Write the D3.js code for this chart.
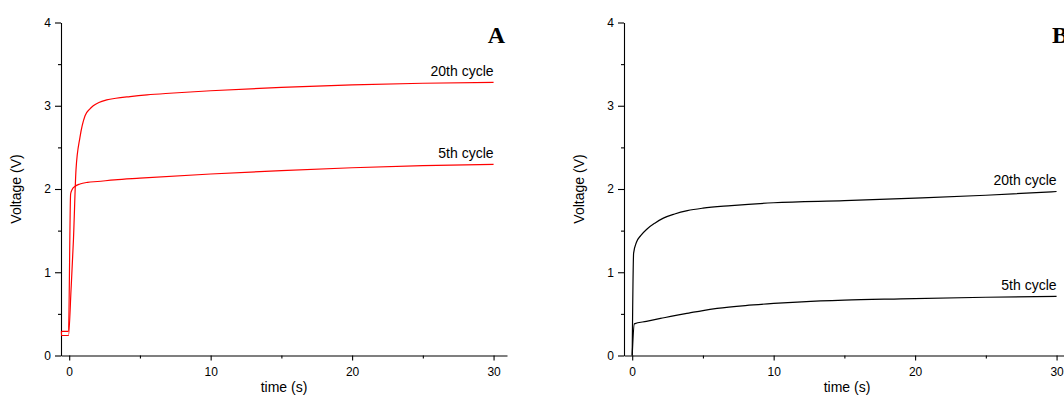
<!DOCTYPE html>
<html><head><meta charset="utf-8">
<script src="https://cdn.jsdelivr.net/npm/d3@7"></script>
<style>body{margin:0;background:#fff}svg{display:block}</style>
</head><body><svg id="c" width="1064" height="403"></svg>
<script>
// ---- data ----
const panels = ["A", "B"];
const xTicks = [0, 10, 20, 30];
const xMinorTicks = [5, 15, 25];
const yTicks = [0, 1, 2, 3, 4];
const yMinorTicks = [0.5, 1.5, 2.5, 3.5];
const seriesNames = ["20th cycle", "5th cycle"];

// Panel A (red)
const timeA20 = [-0.55, -0.549, -0.05, 0.13, 0.3, 0.48, 0.76, 1.12, 1.45, 1.7, 2.1, 2.65, 3.3, 4.3, 5.5, 7.1, 10, 15, 20, 25, 30];
const voltA20 = [0.29, 0.24, 0.24, 0.79, 1.39, 2.23, 2.62, 2.88, 2.96, 3.00, 3.04, 3.07, 3.09, 3.11, 3.13, 3.15, 3.18, 3.22, 3.25, 3.27, 3.28];
const timeA5 = [-0.55, -0.05, 0.1, 0.2, 0.4, 0.76, 1.3, 2, 3.2, 5, 10, 15, 20, 25, 30];
const voltA5 = [0.29, 0.29, 1.94, 1.99, 2.03, 2.06, 2.08, 2.09, 2.11, 2.13, 2.18, 2.22, 2.255, 2.28, 2.295];

// Panel B (black)
const timeB20 = [0.0, 0.1, 0.3, 0.6, 1.05, 1.6, 2.2, 3.0, 3.9, 5, 7, 10, 15, 20, 25, 30];
const voltB20 = [0.0, 1.23, 1.36, 1.44, 1.52, 1.59, 1.65, 1.70, 1.74, 1.77, 1.80, 1.835, 1.86, 1.89, 1.925, 1.97];
const timeB5 = [0.0, 0.15, 1, 2, 3, 4, 5, 6, 8, 10, 12, 15, 19, 25, 30];
const voltB5 = [0.0, 0.38, 0.41, 0.445, 0.48, 0.51, 0.54, 0.565, 0.60, 0.625, 0.645, 0.665, 0.68, 0.70, 0.71];

// ---- drawing ----
const svg = d3.select("#c");
svg.append("rect").attr("width", 1064).attr("height", 403).attr("fill", "#fff");
const font = "'Liberation Sans', Arial, sans-serif";

const panelLeft = [61, 624];
const plotW = 446;
const x = d3.scaleLinear().domain([-0.58, 30.95]).range([0, plotW]);
const y = d3.scaleLinear().domain([0, 4]).range([355.5, 22.5]);

const panelData = [
  {color: "#ff0000", series: [[timeA20, voltA20], [timeA5, voltA5]]},
  {color: "#000000", series: [[timeB20, voltB20], [timeB5, voltB5]]}
];

panels.forEach((name, i) => {
  const g = svg.append("g").attr("transform", `translate(${panelLeft[i]},0)`);
  const pd = panelData[i];

  // minor ticks
  g.append("g").attr("transform", `translate(0,${y(0)})`)
    .call(d3.axisBottom(x).tickValues(xMinorTicks).tickSize(3).tickFormat(""))
    .call(s => s.select(".domain").remove());
  g.append("g")
    .call(d3.axisLeft(y).tickValues(yMinorTicks).tickSize(3).tickFormat(""))
    .call(s => s.select(".domain").remove());

  // major axes
  const xa = g.append("g").attr("transform", `translate(0,${y(0)})`)
    .call(d3.axisBottom(x).tickValues(xTicks).tickSize(5).tickPadding(7).tickSizeOuter(0).tickFormat(d3.format("d")));
  const ya = g.append("g")
    .call(d3.axisLeft(y).tickValues(yTicks).tickSize(6).tickPadding(4).tickSizeOuter(0).tickFormat(d3.format("d")));
  [xa, ya].forEach(a => {
    a.selectAll("text").attr("font-family", font).attr("font-size", 12).attr("fill", "#000");
    a.selectAll("line,path").attr("stroke", "#000").attr("stroke-width", 1.1);
  });
  g.selectAll(".tick line").attr("stroke", "#000").attr("stroke-width", 1.1);

  // axis titles
  g.append("text").attr("x", plotW / 2).attr("y", 392).attr("text-anchor", "middle")
    .attr("font-family", font).attr("font-size", 14).text("time (s)");
  g.append("text").attr("transform", `translate(-40,${(y(0) + y(4)) / 2}) rotate(-90)`)
    .attr("text-anchor", "middle").attr("font-family", font).attr("font-size", 14).text("Voltage (V)");

  // panel letter
  g.append("text").attr("x", 444).attr("y", 43).attr("text-anchor", "end")
    .attr("font-family", "'Liberation Serif', 'Times New Roman', serif")
    .attr("font-weight", "bold").attr("font-size", 24).text(name);

  // curves
  const line = d3.line().x(d => x(d[0])).y(d => y(d[1])).curve(d3.curveMonotoneX);
  pd.series.forEach(([t, v], k) => {
    const pts = t.map((tt, j) => [tt, v[j]]);
    g.append("path").attr("d", line(pts)).attr("fill", "none")
      .attr("stroke", pd.color).attr("stroke-width", 1.2).attr("stroke-linejoin", "round");
    const last = pts[pts.length - 1];
    g.append("text").attr("x", x(last[0])).attr("y", y(last[1]) - 6).attr("text-anchor", "end")
      .attr("font-family", font).attr("font-size", 14).text(seriesNames[k]);
  });
});
</script></body></html>
